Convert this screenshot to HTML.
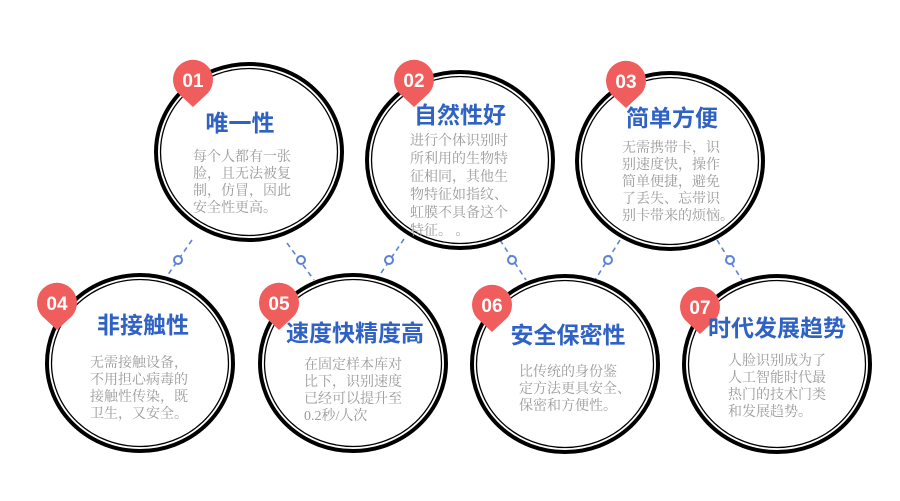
<!DOCTYPE html>
<html><head><meta charset="utf-8"><style>
html,body{margin:0;padding:0;background:#fff;}
svg{display:block}
.t{font-family:"Liberation Sans","Noto Sans CJK SC",sans-serif;font-weight:bold;font-size:23px;fill:#2f62c4;text-anchor:middle}
.b{font-family:"Liberation Serif","Noto Serif CJK SC",serif;font-size:14px;fill:#9a9a9a}
.n{font-family:"Liberation Sans",sans-serif;font-weight:bold;font-size:19px;fill:#fff;text-anchor:middle}
.ln{stroke:#5b82d6;stroke-width:1.6;stroke-dasharray:5,4;fill:none}
.rg{stroke:#5b82d6;stroke-width:2;fill:#fff}
</style></head><body>
<svg width="900" height="501" viewBox="0 0 900 501" xmlns="http://www.w3.org/2000/svg">
<defs>
<g id="c"><ellipse cx="0" cy="0" rx="93" ry="88" fill="#fff" stroke="#000" stroke-width="4"/><ellipse cx="0" cy="0" rx="88.5" ry="83.5" fill="none" stroke="#000" stroke-width="1.3"/></g>
<path id="p" d="M0,27 L-15,13 A20,20 0 1 1 15,13 Z" fill="#f05d5d"/>
</defs>
<!-- connectors -->
<path class="ln" d="M192,240 L165,279"/><circle class="rg" cx="178" cy="260" r="4"/>
<path class="ln" d="M287,243 L314,280"/><circle class="rg" cx="301" cy="260" r="4"/>
<path class="ln" d="M404,239 L377,279"/><circle class="rg" cx="389" cy="260" r="4"/>
<path class="ln" d="M500,240 L526,280"/><circle class="rg" cx="512" cy="260" r="4"/>
<path class="ln" d="M620,240 L595,280"/><circle class="rg" cx="608" cy="260" r="4"/>
<path class="ln" d="M717,240 L742,280"/><circle class="rg" cx="730" cy="260" r="4"/>
<!-- circles -->
<use href="#c" x="249" y="152"/>
<use href="#c" x="460" y="160"/>
<use href="#c" x="670" y="161"/>
<use href="#c" x="140" y="363"/>
<use href="#c" x="353" y="363"/>
<use href="#c" x="565" y="364"/>
<use href="#c" x="777" y="364"/>
<!-- pins -->
<use href="#p" x="193" y="80"/><text class="n" x="193" y="87">01</text>
<use href="#p" x="414" y="80"/><text class="n" x="414" y="87">02</text>
<use href="#p" x="626" y="81"/><text class="n" x="626" y="88">03</text>
<use href="#p" x="57" y="303"/><text class="n" x="57" y="310">04</text>
<use href="#p" x="279" y="303"/><text class="n" x="279" y="310">05</text>
<use href="#p" x="492" y="305"/><text class="n" x="492" y="312">06</text>
<use href="#p" x="700" y="307"/><text class="n" x="700" y="314">07</text>
<!-- titles -->
<text class="t" x="240" y="131">唯一性</text>
<text class="t" x="460" y="123">自然性好</text>
<text class="t" x="672" y="126">简单方便</text>
<text class="t" x="143" y="333">非接触性</text>
<text class="t" x="355" y="341">速度快精度高</text>
<text class="t" x="568" y="343">安全保密性</text>
<text class="t" x="777" y="336">时代发展趋势</text>
<!-- bodies -->
<g class="b">
<text x="193" y="161">每个人都有一张</text><text x="193" y="178">脸，且无法被复</text><text x="193" y="195">制，仿冒，因此</text><text x="193" y="212">安全性更高。</text>
<text x="410" y="145">进行个体识别时</text><text x="410" y="163">所利用的生物特</text><text x="410" y="181">征相同，其他生</text><text x="410" y="199">物特征如指纹、</text><text x="410" y="217">虹膜不具备这个</text><text x="410" y="235">特征。 。</text>
<text x="622" y="152">无需携带卡，识</text><text x="622" y="169">别速度快，操作</text><text x="622" y="186">简单便捷，避免</text><text x="622" y="203">了丢失、忘带识</text><text x="622" y="220">别卡带来的烦恼。</text>
<text x="90" y="367">无需接触设备，</text><text x="90" y="384">不用担心病毒的</text><text x="90" y="401">接触性传染，既</text><text x="90" y="418">卫生，又安全。</text>
<text x="304" y="369">在固定样本库对</text><text x="304" y="386">比下，识别速度</text><text x="304" y="403">已经可以提升至</text><text x="304" y="420">0.2秒/人次</text>
<text x="519" y="376">比传统的身份鉴</text><text x="519" y="393">定方法更具安全、</text><text x="519" y="410">保密和方便性。</text>
<text x="728" y="365">人脸识别成为了</text><text x="728" y="382">人工智能时代最</text><text x="728" y="399">热门的技术门类</text><text x="728" y="416">和发展趋势。</text>
</g>
</svg>
</body></html>
